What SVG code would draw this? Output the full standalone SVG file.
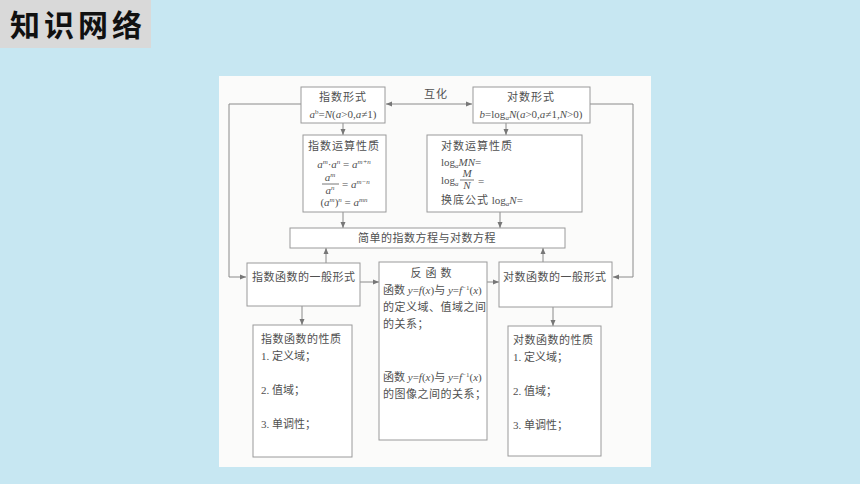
<svg xmlns="http://www.w3.org/2000/svg" width="860" height="484" viewBox="0 0 860 484">
<defs>
<style>
.bx{fill:#ffffff;stroke:#9a9a9a;stroke-width:1}
.cn{fill:none;stroke:#8a8a8a;stroke-width:1}
.t{font-family:"Liberation Serif","Noto Sans CJK SC",serif;font-size:11px;fill:#505050}
.c{text-anchor:middle}
.i{font-style:italic}
.s{font-size:7px}
</style>
<marker id="ah" viewBox="0 0 6 6" refX="6" refY="3" markerWidth="6" markerHeight="6" markerUnits="userSpaceOnUse" orient="auto-start-reverse">
<path d="M0,0.5 L6,3 L0,5.5 Z" fill="#777"/>
</marker>
</defs>
<rect x="0" y="0" width="860" height="484" fill="#c7e7f2"/>
<g id="title">
<rect x="0" y="0" width="151" height="48" fill="#d9d9d9"/>
<text x="10" y="36" font-family="'Noto Sans CJK SC','Noto Sans CJK JP',sans-serif" font-size="30" font-weight="bold" letter-spacing="4" fill="#111">知识网络</text>
</g>
<rect x="219" y="76" width="432" height="391" fill="#fbfbfa"/>
<g id="connectors">
<line class="cn" x1="472" y1="104" x2="386" y2="104" marker-start="url(#ah)" marker-end="url(#ah)"/>
<text class="t" x="424" y="98" letter-spacing="1">互化</text>
<polyline class="cn" points="301,104 229,104 229,277 246,277" marker-end="url(#ah)"/>
<polyline class="cn" points="590,104 633,104 633,277 613,277" marker-end="url(#ah)"/>
<line class="cn" x1="343" y1="123" x2="343" y2="135" marker-end="url(#ah)"/>
<line class="cn" x1="506" y1="123" x2="506" y2="135" marker-end="url(#ah)"/>
<line class="cn" x1="343" y1="212" x2="343" y2="228" marker-end="url(#ah)"/>
<line class="cn" x1="500" y1="212" x2="500" y2="228" marker-end="url(#ah)"/>
<line class="cn" x1="326" y1="263" x2="326" y2="248" marker-end="url(#ah)"/>
<line class="cn" x1="543" y1="262" x2="543" y2="248" marker-end="url(#ah)"/>
<line class="cn" x1="360" y1="282" x2="379" y2="282" marker-end="url(#ah)"/>
<line class="cn" x1="487" y1="282" x2="499" y2="282" marker-end="url(#ah)"/>
<line class="cn" x1="302" y1="306" x2="302" y2="325" marker-end="url(#ah)"/>
<line class="cn" x1="553" y1="307" x2="553" y2="326" marker-end="url(#ah)"/>
</g>
<g id="exp-form">
<rect class="bx" x="301" y="87" width="84" height="36"/>
<text class="t c" x="343" y="101" letter-spacing="1">指数形式</text>
<text class="t c" x="343" y="118"><tspan class="i">a</tspan><tspan class="s" dy="-4">b</tspan><tspan dy="4">=</tspan><tspan class="i">N</tspan>(<tspan class="i">a</tspan>&gt;0,<tspan class="i">a</tspan>≠1)</text>
</g>
<g id="log-form">
<rect class="bx" x="473" y="87" width="117" height="36"/>
<text class="t c" x="531" y="101" letter-spacing="1">对数形式</text>
<text class="t c" x="531" y="118"><tspan class="i">b</tspan>=log<tspan class="s i" dy="2">a</tspan><tspan class="i" dy="-2">N</tspan>(<tspan class="i">a</tspan>&gt;0,<tspan class="i">a</tspan>≠1,<tspan class="i">N</tspan>&gt;0)</text>
</g>
<g id="exp-ops">
<rect class="bx" x="303" y="135" width="83" height="77"/>
<text class="t c" x="344" y="150" letter-spacing="1">指数运算性质</text>
<text class="t c" x="344" y="168"><tspan class="i">a</tspan><tspan class="s i" dy="-4">m</tspan><tspan dy="4">·</tspan><tspan class="i">a</tspan><tspan class="s i" dy="-4">n</tspan><tspan dy="4"> = </tspan><tspan class="i">a</tspan><tspan class="s i" dy="-4">m+n</tspan></text>
<text class="t c" x="330" y="181"><tspan class="i">a</tspan><tspan class="s i" dy="-4">m</tspan></text>
<line x1="322" y1="184" x2="339" y2="184" stroke="#555" stroke-width="0.8"/>
<text class="t c" x="330" y="194"><tspan class="i">a</tspan><tspan class="s i" dy="-4">n</tspan></text>
<text class="t" x="342" y="188">= <tspan class="i">a</tspan><tspan class="s i" dy="-4">m−n</tspan></text>
<text class="t c" x="344" y="206">(<tspan class="i">a</tspan><tspan class="s i" dy="-4">m</tspan><tspan dy="4">)</tspan><tspan class="s i" dy="-4">n</tspan><tspan dy="4"> = </tspan><tspan class="i">a</tspan><tspan class="s i" dy="-4">mn</tspan></text>
</g>
<g id="log-ops">
<rect class="bx" x="427" y="135" width="155" height="77"/>
<text class="t" x="441" y="150" letter-spacing="1">对数运算性质</text>
<text class="t" x="441" y="166">log<tspan class="s i" dy="2">a</tspan><tspan class="i" dy="-2">MN</tspan>=</text>
<text class="t" x="441" y="184">log<tspan class="s i" dy="2">a</tspan></text>
<text class="t c i" x="467" y="177">M</text>
<line x1="460" y1="180" x2="474" y2="180" stroke="#555" stroke-width="0.8"/>
<text class="t c i" x="467" y="189">N</text>
<text class="t" x="478" y="185">=</text>
<text class="t" x="441" y="204"><tspan letter-spacing="1">换底公式</tspan> log<tspan class="s i" dy="2">a</tspan><tspan class="i" dy="-2">N</tspan>=</text>
</g>
<g id="equations">
<rect class="bx" x="290" y="228" width="275" height="20"/>
<text class="t c" x="427" y="242" letter-spacing="0.5">简单的指数方程与对数方程</text>
</g>
<g id="exp-func">
<rect class="bx" x="247" y="263" width="113" height="43"/>
<text class="t" x="252" y="281" letter-spacing="0.5">指数函数的一般形式</text>
</g>
<g id="inverse">
<rect class="bx" x="379" y="262" width="108" height="178"/>
<text class="t c" x="433" y="277" letter-spacing="4">反函数</text>
<text class="t" x="383" y="294">函数 <tspan class="i">y</tspan>=<tspan class="i">f</tspan>(<tspan class="i">x</tspan>)与 <tspan class="i">y</tspan>=<tspan class="i">f</tspan><tspan class="s" dy="-4">−1</tspan><tspan dy="4">(</tspan><tspan class="i">x</tspan>)</text>
<text class="t" x="383" y="311" letter-spacing="0.5">的定义域、值域之间</text>
<text class="t" x="383" y="328" letter-spacing="0.5">的关系；</text>
<text class="t" x="383" y="381">函数 <tspan class="i">y</tspan>=<tspan class="i">f</tspan>(<tspan class="i">x</tspan>)与 <tspan class="i">y</tspan>=<tspan class="i">f</tspan><tspan class="s" dy="-4">−1</tspan><tspan dy="4">(</tspan><tspan class="i">x</tspan>)</text>
<text class="t" x="383" y="398" letter-spacing="0.5">的图像之间的关系；</text>
</g>
<g id="log-func">
<rect class="bx" x="499" y="262" width="113" height="45"/>
<text class="t" x="503" y="281" letter-spacing="0.5">对数函数的一般形式</text>
</g>
<g id="exp-props">
<rect class="bx" x="253" y="325" width="99" height="132"/>
<text class="t" x="261" y="343" letter-spacing="0.5">指数函数的性质</text>
<text class="t" x="261" y="360">1. 定义域；</text>
<text class="t" x="261" y="394">2. 值域；</text>
<text class="t" x="261" y="428">3. 单调性；</text>
</g>
<g id="log-props">
<rect class="bx" x="508" y="326" width="93" height="130"/>
<text class="t" x="513" y="344" letter-spacing="0.5">对数函数的性质</text>
<text class="t" x="513" y="361">1. 定义域；</text>
<text class="t" x="513" y="395">2. 值域；</text>
<text class="t" x="513" y="429">3. 单调性；</text>
</g>
</svg>
